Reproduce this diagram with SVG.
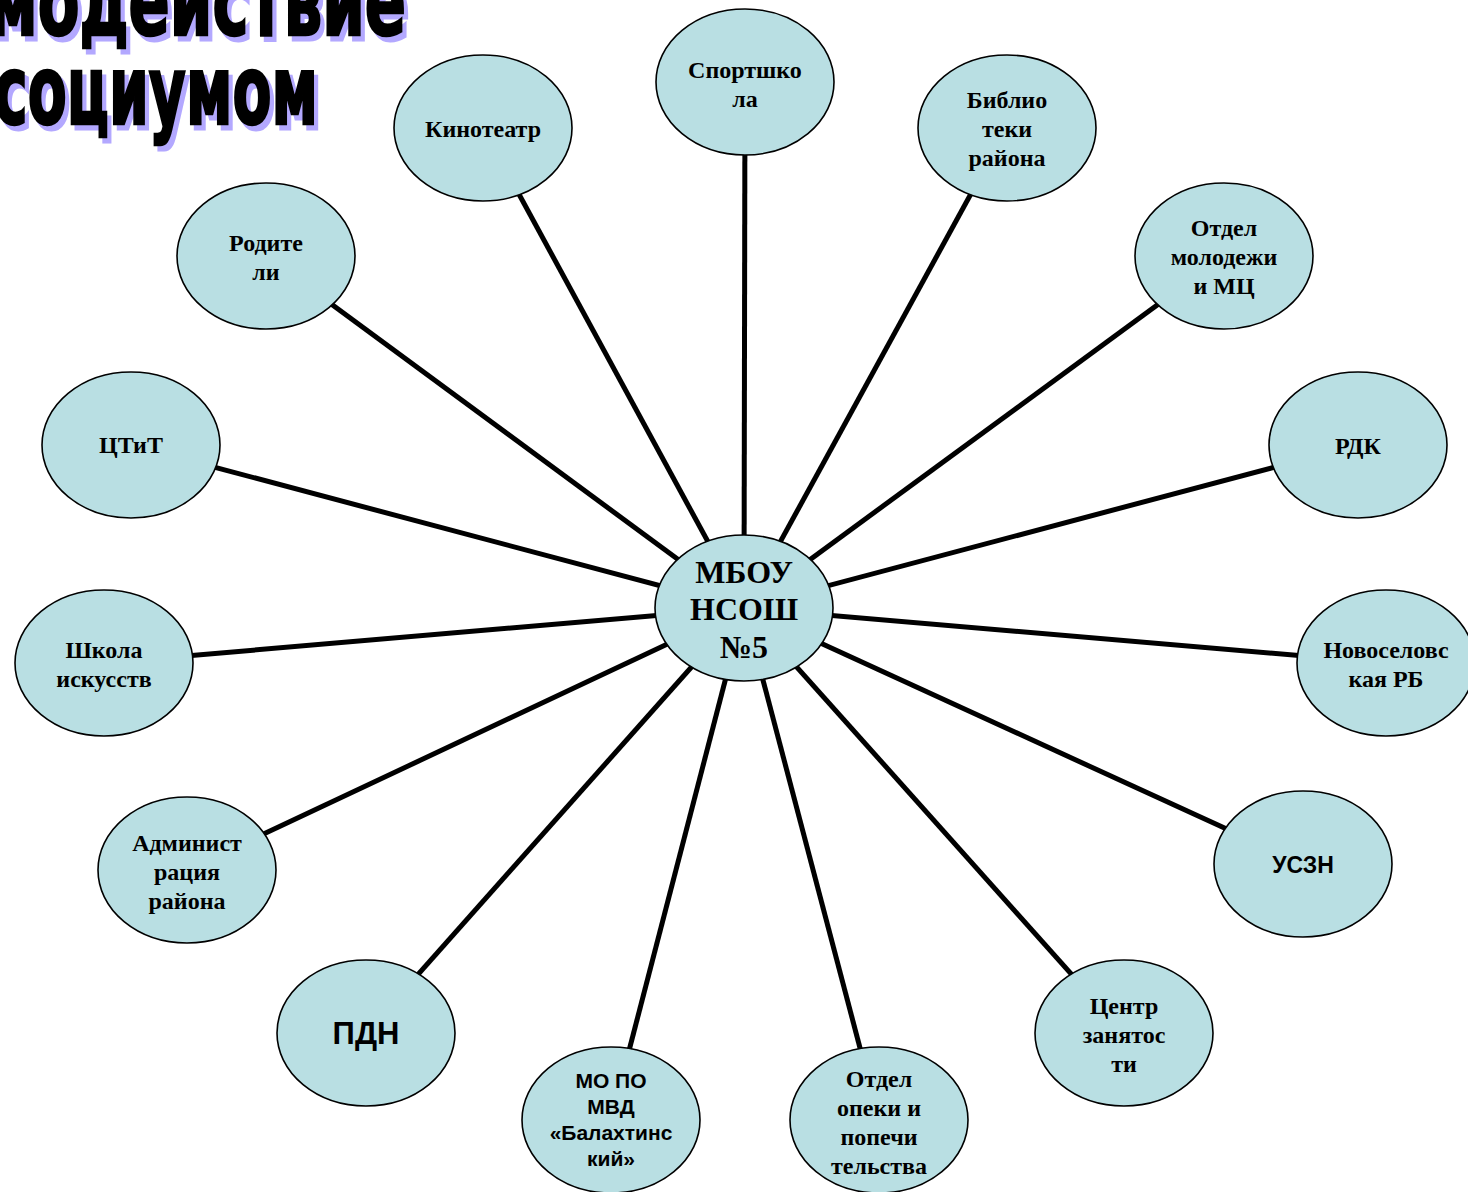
<svg xmlns="http://www.w3.org/2000/svg" width="1468" height="1192" viewBox="0 0 1468 1192">
<style>
.n{fill:#b9dfe3;stroke:#000;stroke-width:1.6}
.c line{stroke:#000;stroke-width:5}
.s{font-family:"Liberation Serif","Times New Roman",serif;font-weight:bold;font-size:24px;fill:#000;text-anchor:middle}
.a{font-family:"Liberation Sans",Arial,sans-serif;font-weight:bold;fill:#000;text-anchor:middle}
.t{font-family:"DejaVu Sans Condensed","DejaVu Sans",sans-serif;font-weight:bold;font-size:96px}
</style>
<rect width="1468" height="1192" fill="#fff"/>
<g id="title">
<text class="t" x="-8" y="40" textLength="418" lengthAdjust="spacingAndGlyphs" fill="#b3a8ff" stroke="#b3a8ff" stroke-width="3">модействие</text>
<text class="t" x="-2" y="129" textLength="324" lengthAdjust="spacingAndGlyphs" fill="#b3a8ff" stroke="#b3a8ff" stroke-width="3">социумом</text>
<text class="t" x="-12" y="35" textLength="418" lengthAdjust="spacingAndGlyphs" fill="#000" stroke="#000" stroke-width="2.5">модействие</text>
<text class="t" x="-6" y="124" textLength="324" lengthAdjust="spacingAndGlyphs" fill="#000" stroke="#000" stroke-width="2.5">социумом</text>
</g>
<g id="connectors" class="c">
<line x1="744" y1="608" x2="745" y2="82"/>
<line x1="744" y1="608" x2="483" y2="128"/>
<line x1="744" y1="608" x2="1007" y2="128"/>
<line x1="744" y1="608" x2="266" y2="256"/>
<line x1="744" y1="608" x2="1224" y2="256"/>
<line x1="744" y1="608" x2="131" y2="445"/>
<line x1="744" y1="608" x2="1358" y2="445"/>
<line x1="744" y1="608" x2="104" y2="663"/>
<line x1="744" y1="608" x2="1386" y2="663"/>
<line x1="744" y1="608" x2="187" y2="870"/>
<line x1="744" y1="608" x2="1303" y2="864"/>
<line x1="744" y1="608" x2="366" y2="1033"/>
<line x1="744" y1="608" x2="1124" y2="1033"/>
<line x1="744" y1="608" x2="611" y2="1120"/>
<line x1="744" y1="608" x2="879" y2="1120"/>
</g>
<g id="center"><ellipse class="n" cx="744" cy="608" rx="89" ry="73"/>
<text class="s" style="font-size:32px" x="744" y="583">МБОУ</text>
<text class="s" style="font-size:32px" x="744" y="620">НСОШ</text>
<text class="s" style="font-size:32px" x="744" y="658">№5</text></g>
<g id="sport"><ellipse class="n" cx="745" cy="82" rx="89" ry="73"/>
<text class="s" x="745" y="78">Спортшко</text><text class="s" x="745" y="107">ла</text></g>
<g id="kino"><ellipse class="n" cx="483" cy="128" rx="89" ry="73"/>
<text class="s" x="483" y="137">Кинотеатр</text></g>
<g id="biblio"><ellipse class="n" cx="1007" cy="128" rx="89" ry="73"/>
<text class="s" x="1007" y="108">Библио</text><text class="s" x="1007" y="137">теки</text><text class="s" x="1007" y="166">района</text></g>
<g id="roditeli"><ellipse class="n" cx="266" cy="256" rx="89" ry="73"/>
<text class="s" x="266" y="251">Родите</text><text class="s" x="266" y="280">ли</text></g>
<g id="molod"><ellipse class="n" cx="1224" cy="256" rx="89" ry="73"/>
<text class="s" x="1224" y="236">Отдел</text><text class="s" x="1224" y="265">молодежи</text><text class="s" x="1224" y="294">и МЦ</text></g>
<g id="ctit"><ellipse class="n" cx="131" cy="445" rx="89" ry="73"/>
<text class="s" x="131" y="453">ЦТиТ</text></g>
<g id="rdk"><ellipse class="n" cx="1358" cy="445" rx="89" ry="73"/>
<text class="s" x="1358" y="454">РДК</text></g>
<g id="shkola"><ellipse class="n" cx="104" cy="663" rx="89" ry="73"/>
<text class="s" x="104" y="658">Школа</text><text class="s" x="104" y="687">искусств</text></g>
<g id="rb"><ellipse class="n" cx="1386" cy="663" rx="89" ry="73"/>
<text class="s" x="1386" y="658">Новоселовс</text><text class="s" x="1386" y="687">кая РБ</text></g>
<g id="admin"><ellipse class="n" cx="187" cy="870" rx="89" ry="73"/>
<text class="s" x="187" y="851">Админист</text><text class="s" x="187" y="880">рация</text><text class="s" x="187" y="909">района</text></g>
<g id="uszn"><ellipse class="n" cx="1303" cy="864" rx="89" ry="73"/>
<text class="a" style="font-size:23px" x="1303" y="873">УСЗН</text></g>
<g id="pdn"><ellipse class="n" cx="366" cy="1033" rx="89" ry="73"/>
<text class="a" style="font-size:31px" x="366" y="1044">ПДН</text></g>
<g id="czan"><ellipse class="n" cx="1124" cy="1033" rx="89" ry="73"/>
<text class="s" x="1124" y="1014">Центр</text><text class="s" x="1124" y="1043">занятос</text><text class="s" x="1124" y="1072">ти</text></g>
<g id="mvd"><ellipse class="n" cx="611" cy="1120" rx="89" ry="73"/>
<text class="a" style="font-size:21px" x="611" y="1088">МО ПО</text><text class="a" style="font-size:21px" x="611" y="1114">МВД</text><text class="a" style="font-size:21px" x="611" y="1140">«Балахтинс</text><text class="a" style="font-size:21px" x="611" y="1166">кий»</text></g>
<g id="opeka"><ellipse class="n" cx="879" cy="1120" rx="89" ry="73"/>
<text class="s" x="879" y="1087">Отдел</text><text class="s" x="879" y="1116">опеки и</text><text class="s" x="879" y="1145">попечи</text><text class="s" x="879" y="1174">тельства</text></g>
</svg>
